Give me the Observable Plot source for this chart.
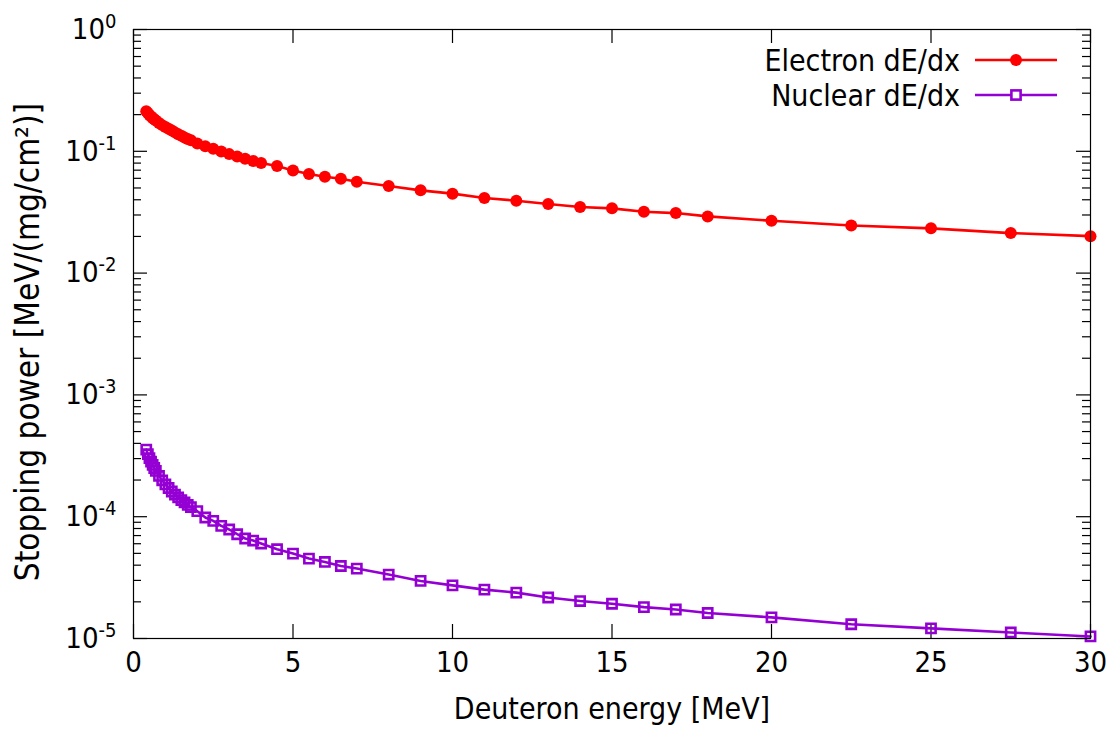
<!DOCTYPE html>
<html>
<head>
<meta charset="utf-8">
<script src="https://cdn.jsdelivr.net/npm/d3@7"></script>
<script src="https://cdn.jsdelivr.net/npm/@observablehq/plot@0.6"></script>
<style>
  html, body { margin: 0; padding: 0; background: #ffffff; }
  #chart svg { display: block; }
</style>
</head>
<body>
<div id="chart"></div>
<script>
// Deuteron energy grid [MeV]
const energy = [
  0.4, 0.45, 0.5, 0.55, 0.6, 0.65, 0.7, 0.8, 0.9, 1.0,
  1.1, 1.2, 1.3, 1.4, 1.5, 1.6, 1.7, 1.8, 2.0, 2.25,
  2.5, 2.75, 3.0, 3.25, 3.5, 3.75, 4.0, 4.5, 5.0, 5.5,
  6.0, 6.5, 7.0, 8.0, 9.0, 10, 11, 12, 13, 14,
  15, 16, 17, 18, 20, 22.5, 25, 27.5, 30
];

// Electronic stopping power [MeV/(mg/cm2)]
const electronDEdx = [
  0.213, 0.206, 0.199, 0.193, 0.188, 0.183, 0.179, 0.171, 0.164, 0.158,
  0.153, 0.148, 0.143, 0.138, 0.134, 0.130, 0.126, 0.123, 0.116, 0.110,
  0.105, 0.0995, 0.0948, 0.0906, 0.0868, 0.0833, 0.0801, 0.0758, 0.0696, 0.0652,
  0.0619, 0.0596, 0.0563, 0.0519, 0.0478, 0.0449, 0.0414, 0.0393, 0.0369, 0.0349,
  0.0340, 0.0319, 0.0311, 0.0292, 0.0269, 0.0246, 0.0233, 0.0213, 0.0201
];

// Nuclear stopping power [MeV/(mg/cm2)]
const nuclearDEdx = [
  3.55e-4, 3.26e-4, 3.03e-4, 2.83e-4, 2.66e-4, 2.51e-4, 2.38e-4, 2.16e-4, 1.99e-4, 1.84e-4,
  1.72e-4, 1.61e-4, 1.52e-4, 1.44e-4, 1.37e-4, 1.31e-4, 1.25e-4, 1.20e-4, 1.11e-4, 9.85e-5,
  9.24e-5, 8.40e-5, 7.85e-5, 7.18e-5, 6.62e-5, 6.37e-5, 6.02e-5, 5.41e-5, 4.98e-5, 4.53e-5,
  4.25e-5, 3.94e-5, 3.75e-5, 3.35e-5, 2.97e-5, 2.73e-5, 2.52e-5, 2.38e-5, 2.17e-5, 2.03e-5,
  1.93e-5, 1.81e-5, 1.73e-5, 1.62e-5, 1.49e-5, 1.31e-5, 1.21e-5, 1.12e-5, 1.04e-5
];

const seriesNames = ["Electron dE/dx", "Nuclear dE/dx"];
const seriesColors = ["#ff0000", "#9400d3"];

const xTicks = [0, 5, 10, 15, 20, 25, 30];
const yTicks = [1e-5, 1e-4, 1e-3, 1e-2, 1e-1, 1];
const yTickExponents = ["-5", "-4", "-3", "-2", "-1", "0"];

const xLabel = "Deuteron energy [MeV]";
const yLabel = "Stopping power [MeV/(mg/cm\u00b2)]";

// minor ticks 2..9 within each decade
const yMinor = yTicks.slice(0, -1).flatMap(t => d3.range(2, 10).map(k => k * t));

const electron = energy.map((e, i) => ({e, v: electronDEdx[i]}));
const nuclear = energy.map((e, i) => ({e, v: nuclearDEdx[i]}));

const W = 1120, H = 747;
const mL = 133, mR = 30, mT = 29, mB = 109;
const innerW = W - mL - mR, innerH = H - mT - mB;
const FONT = "'DejaVu Sans Condensed', 'DejaVu Sans', sans-serif";
const majorLen = 14, minorLen = 8;

const chart = Plot.plot({
  width: W,
  height: H,
  marginLeft: mL,
  marginRight: mR,
  marginTop: mT,
  marginBottom: mB,
  style: {fontFamily: FONT, fontSize: "28px", background: "#ffffff", color: "#000000"},
  x: {domain: [0, 30]},
  y: {type: "log", domain: [1e-5, 1]},
  marks: [
    // inward tick marks on all four sides
    Plot.ruleX(xTicks, {x: d => d, insetTop: innerH - majorLen, stroke: "#000", strokeWidth: 1.2}),
    Plot.ruleX(xTicks, {x: d => d, insetBottom: innerH - majorLen, stroke: "#000", strokeWidth: 1.2}),
    Plot.ruleY(yTicks, {y: d => d, insetRight: innerW - majorLen, stroke: "#000", strokeWidth: 1.2}),
    Plot.ruleY(yTicks, {y: d => d, insetLeft: innerW - majorLen, stroke: "#000", strokeWidth: 1.2}),
    Plot.ruleY(yMinor, {y: d => d, insetRight: innerW - minorLen, stroke: "#000", strokeWidth: 1.2}),
    Plot.ruleY(yMinor, {y: d => d, insetLeft: innerW - minorLen, stroke: "#000", strokeWidth: 1.2}),

    Plot.axisX(xTicks, {tickSize: 0, tickPadding: 13, label: null, fontSize: 29}),
    Plot.axisY(yTicks, {tickSize: 0, tickPadding: 17, label: null, fontSize: 29, tickFormat: () => "10"}),

    // data series
    Plot.line(electron, {x: "e", y: "v", stroke: seriesColors[0], strokeWidth: 2.6}),
    Plot.dot(electron, {x: "e", y: "v", fill: seriesColors[0], r: 6}),
    Plot.line(nuclear, {x: "e", y: "v", stroke: seriesColors[1], strokeWidth: 2.6}),
    Plot.dot(nuclear, {x: "e", y: "v", symbol: "square", stroke: seriesColors[1], strokeWidth: 2.6, r: 5.2, fill: "none"}),

    Plot.frame({stroke: "#000", strokeWidth: 1.2}),

    // axis titles
    Plot.text([xLabel], {frameAnchor: "bottom", dy: 80, fontSize: 30}),
    Plot.text([yLabel], {frameAnchor: "left", textAnchor: "middle", dx: -105, dy: 8, rotate: -90, fontSize: 33})
  ]
});

document.getElementById("chart").appendChild(chart);

// superscript exponents on the y tick labels
const svg = d3.select(chart);
svg.selectAll('g[aria-label="y-axis tick label"] text').each(function(_, i) {
  d3.select(this).append("tspan")
    .attr("dy", "-0.55em")
    .attr("font-size", "20px")
    .text(yTickExponents[i]);
});

// key in the upper right corner
const legend = svg.append("g").attr("font-family", FONT).attr("font-size", 30);
const rows = [{y: 60, i: 0}, {y: 95, i: 1}];
rows.forEach(({y, i}) => {
  legend.append("text")
    .attr("x", 960).attr("y", y).attr("dy", "0.35em")
    .attr("text-anchor", "end").attr("fill", "#000")
    .text(seriesNames[i]);
  legend.append("line")
    .attr("x1", 975).attr("x2", 1057).attr("y1", y).attr("y2", y)
    .attr("stroke", seriesColors[i]).attr("stroke-width", 2.6);
  if (i === 0) {
    legend.append("circle").attr("cx", 1016).attr("cy", y).attr("r", 6).attr("fill", seriesColors[i]);
  } else {
    legend.append("rect").attr("x", 1016 - 4.6).attr("y", y - 4.6).attr("width", 9.2).attr("height", 9.2)
      .attr("fill", "#fff").attr("stroke", seriesColors[i]).attr("stroke-width", 2.6);
  }
});
</script>
</body>
</html>
